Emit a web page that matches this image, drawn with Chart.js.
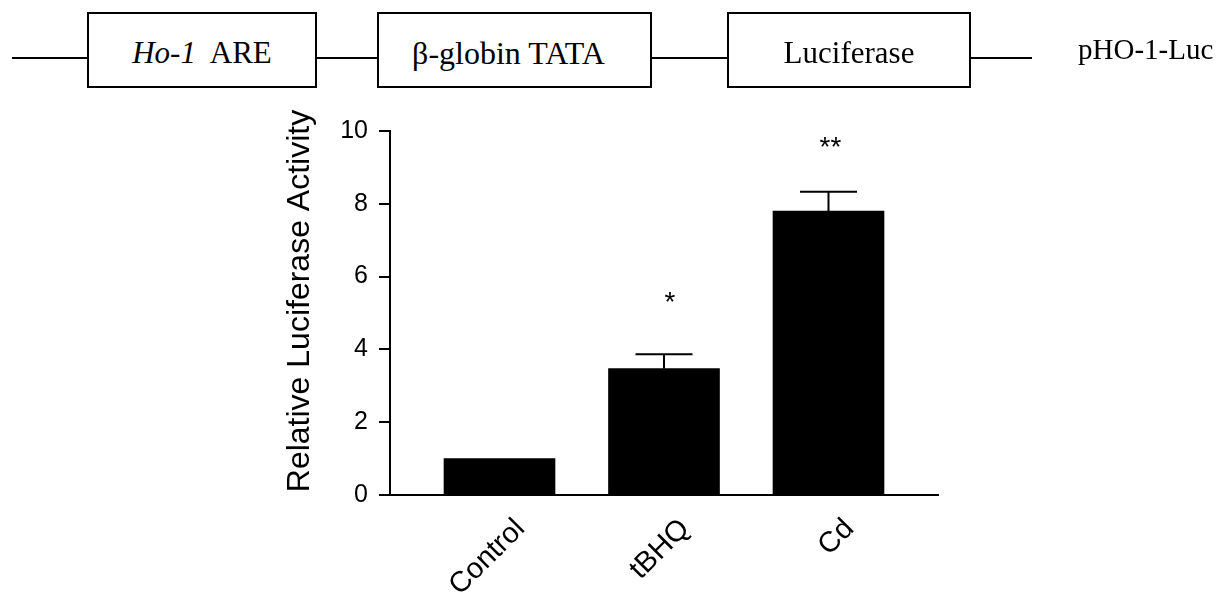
<!DOCTYPE html>
<html><head><meta charset="utf-8">
<script src="https://cdn.jsdelivr.net/npm/chart.js@4"></script>
<style>
html,body{margin:0;padding:0;background:#fff;}
#wrap{position:relative;width:1221px;height:592px;overflow:hidden;background:#fff;}
#c{position:absolute;left:0;top:0;}
.diag{font-family:"Liberation Serif","Times New Roman",serif;font-size:31px;color:#000;white-space:pre;}
.line{position:absolute;left:12px;top:57px;width:1020px;height:2px;background:#000;}
.box{position:absolute;top:12px;height:72px;border:2px solid #000;background:#fff;display:flex;align-items:center;justify-content:center;padding-top:0;}
.box span{position:relative;top:3px;}
.label{position:absolute;left:1078px;top:33px;font-size:29px;}
</style></head>
<body>
<div id="wrap">
<canvas id="c" width="1221" height="592"></canvas>
<div class="line"></div>
<div class="box diag" style="left:87px;width:226px;"><span><i>Ho-1</i>  ARE</span></div>
<div class="box diag" style="left:377px;width:271px;"><span style="left:-6px;font-size:32px;">β-globin TATA</span></div>
<div class="box diag" style="left:727px;width:240px;"><span>Luciferase</span></div>
<div class="diag label">pHO-1-Luc</div>
</div>
<script>
const categories = ['Control', 'tBHQ', 'Cd'];
const means = [1.0, 3.47, 7.8];
const sems = [0, 0.4, 0.53];
const sigMarks = ['', '*', '**'];
const sigLevels = [null, 5.05, 9.3];
const yTickValues = [0, 2, 4, 6, 8, 10];
const yTitle = 'Relative Luciferase Activity';

const SANS = '"Liberation Sans", Arial, sans-serif';

const errorBarPlugin = {
  id: 'errorBars',
  afterDatasetsDraw(chart) {
    const ctx = chart.ctx;
    const xs = chart.scales.x, ys = chart.scales.y;
    ctx.save();
    ctx.strokeStyle = '#000';
    ctx.lineWidth = 2;
    means.forEach((m, i) => {
      if (!sems[i]) return;
      const x = xs.getPixelForValue(i);
      const y0 = ys.getPixelForValue(m);
      const y1 = ys.getPixelForValue(m + sems[i]);
      ctx.beginPath();
      ctx.moveTo(x, y0); ctx.lineTo(x, y1);
      ctx.moveTo(x - 28.5, y1); ctx.lineTo(x + 28.5, y1);
      ctx.stroke();
    });
    ctx.fillStyle = '#000';
    ctx.font = '28px ' + SANS;
    ctx.textAlign = 'center';
    ctx.textBaseline = 'alphabetic';
    sigMarks.forEach((s, i) => {
      if (!s) return;
      ctx.fillText(s, xs.getPixelForValue(i) + (s.length === 1 ? 6 : 2), ys.getPixelForValue(sigLevels[i]));
    });
    // y axis title
    ctx.translate(300, 301);
    ctx.rotate(-Math.PI / 2);
    ctx.font = '32px ' + SANS;
    ctx.textBaseline = 'middle';
    ctx.fillText(yTitle, 0, 0);
    ctx.restore();
  }
};

new Chart(document.getElementById('c'), {
  type: 'bar',
  data: {
    datasets: [{
      data: categories.map((c, i) => ({ x: i, y: means[i] })),
      backgroundColor: '#000',
      borderWidth: 0,
      barThickness: 111
    }]
  },
  options: {
    responsive: false,
    animation: false,
    devicePixelRatio: 1,
    layout: { padding: { left: 0, top: 131, right: 283, bottom: 0 } },
    plugins: { legend: { display: false }, tooltip: { enabled: false } },
    scales: {
      x: {
        type: 'linear',
        offset: false,
        min: -0.6657,
        max: 2.6657,
        afterBuildTicks: s => { s.ticks = categories.map((c, i) => ({ value: i })); },
        afterFit: s => { s.height = 97; },
        grid: { offset: false, drawOnChartArea: false, drawTicks: false },
        border: { display: true, color: '#000', width: 2 },
        ticks: {
          autoSkip: false,
          minRotation: 45, maxRotation: 45,
          padding: 17,
          labelOffset: 21,
          color: '#000',
          font: { family: SANS, size: 29 },
          callback: v => categories[v] ?? ''
        }
      },
      y: {
        min: 0, max: 10,
        afterBuildTicks: s => { s.ticks = yTickValues.map(v => ({ value: v })); },
        afterFit: s => { s.width = 390; },
        grid: { drawOnChartArea: false, drawTicks: true, tickLength: 11, color: '#000', lineWidth: 2 },
        border: { display: true, color: '#000', width: 2 },
        ticks: {
          padding: 11,
          color: '#000',
          font: { family: SANS, size: 25 }
        }
      }
    }
  },
  plugins: [errorBarPlugin]
});
</script>
</body></html>
